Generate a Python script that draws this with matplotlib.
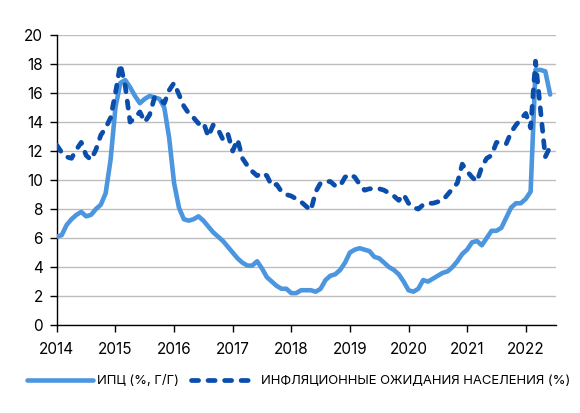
import matplotlib
matplotlib.use("Agg")
import matplotlib.pyplot as plt
import numpy as np

# monthly data, Jan 2014 .. Jun 2022
cpi = [
    6.1, 6.2, 6.9, 7.3, 7.6, 7.8, 7.5, 7.6, 8.0, 8.3, 9.1, 11.4,       # 2014
    15.0, 16.7, 16.9, 16.4, 15.8, 15.3, 15.6, 15.8, 15.7, 15.6, 15.0, 12.9,  # 2015
    9.8, 8.1, 7.3, 7.2, 7.3, 7.5, 7.2, 6.8, 6.4, 6.1, 5.8, 5.4,        # 2016
    5.0, 4.6, 4.3, 4.1, 4.1, 4.4, 3.9, 3.3, 3.0, 2.7, 2.5, 2.5,        # 2017
    2.2, 2.2, 2.4, 2.4, 2.4, 2.3, 2.5, 3.1, 3.4, 3.5, 3.8, 4.3,        # 2018
    5.0, 5.2, 5.3, 5.2, 5.1, 4.7, 4.6, 4.3, 4.0, 3.8, 3.5, 3.0,        # 2019
    2.4, 2.3, 2.5, 3.1, 3.0, 3.2, 3.4, 3.6, 3.7, 4.0, 4.4, 4.9,        # 2020
    5.2, 5.7, 5.8, 5.5, 6.0, 6.5, 6.5, 6.7, 7.4, 8.1, 8.4, 8.4,        # 2021
    8.7, 9.2, 17.6, 17.6, 17.5, 15.9,                                  # 2022
]
expectations = [
    12.4, 11.9, 11.6, 11.5, 12.1, 12.6, 11.7, 11.4, 12.1, 13.1, 13.6, 14.3,
    16.0, 18.0, 16.5, 14.0, 14.3, 14.7, 14.0, 14.5, 15.7, 15.6, 15.3, 16.2,
    16.7, 15.9, 15.1, 14.6, 14.3, 13.9, 14.0, 13.0, 13.8, 13.5, 12.8, 13.2,
    12.0, 12.8, 11.5, 11.0, 10.6, 10.3, 10.5, 10.3, 9.6, 9.7, 9.2, 9.0,
    8.9, 8.7, 8.5, 8.2, 7.9, 9.2, 9.8, 9.9, 9.9, 9.6, 9.6, 10.2,
    10.4, 10.2, 9.7, 9.3, 9.4, 9.4, 9.4, 9.3, 9.1, 8.9, 8.6, 9.0,
    8.4, 8.1, 8.0, 8.3, 8.4, 8.4, 8.5, 8.6, 9.0, 9.4, 9.8, 11.1,
    10.6, 10.2, 9.9, 10.9, 11.5, 11.7, 12.6, 12.6, 12.5, 13.3, 13.8, 14.2,
    14.6, 13.6, 18.2, 14.9, 11.6, 12.3,
]
years = list(range(2014, 2023))
cpi_label = "ИПЦ (%, Г/Г)"
exp_label = "ИНФЛЯЦИОННЫЕ ОЖИДАНИЯ НАСЕЛЕНИЯ (%)"

plt.rcParams["font.family"] = ["Inter", "DejaVu Sans"]

t = 2014 + np.arange(len(cpi)) / 12

fig = plt.figure(figsize=(5.8, 4.13), dpi=100)
ax = fig.add_axes([0.098, 0.213, 0.861, 0.702])

ax.plot(t, cpi, color="#4C96E0", lw=3.3, solid_capstyle="round",
        solid_joinstyle="round", label=cpi_label, zorder=3)
ax.plot(t, expectations, color="#0A4DAA", lw=3.4, dashes=(1.5, 2.0),
        dash_capstyle="round", label=exp_label, zorder=4)

ax.set_xlim(2014, 2022.52)
ax.set_ylim(0, 20)
ax.set_xticks(years)
ax.set_xticklabels([str(y) for y in years])
ax.set_yticks(range(0, 21, 2))
ax.yaxis.grid(True, color="#BDBDBD", lw=1.0)
ax.set_axisbelow(True)

for side in ("top", "right"):
    ax.spines[side].set_visible(False)
for side in ("left", "bottom"):
    ax.spines[side].set_color("black")
    ax.spines[side].set_linewidth(1.0)
ax.tick_params(axis="both", direction="out", length=5, width=1,
               labelsize=11, colors="black")
ax.tick_params(axis="x", pad=7)
ax.tick_params(axis="y", pad=5)

fig.legend(loc="center", bbox_to_anchor=(0.515, 0.077), ncol=2, frameon=False,
           fontsize=9.4, handlelength=5.0, handletextpad=0.35, columnspacing=0.9)

fig.savefig("out.png", dpi=100, facecolor="white")
